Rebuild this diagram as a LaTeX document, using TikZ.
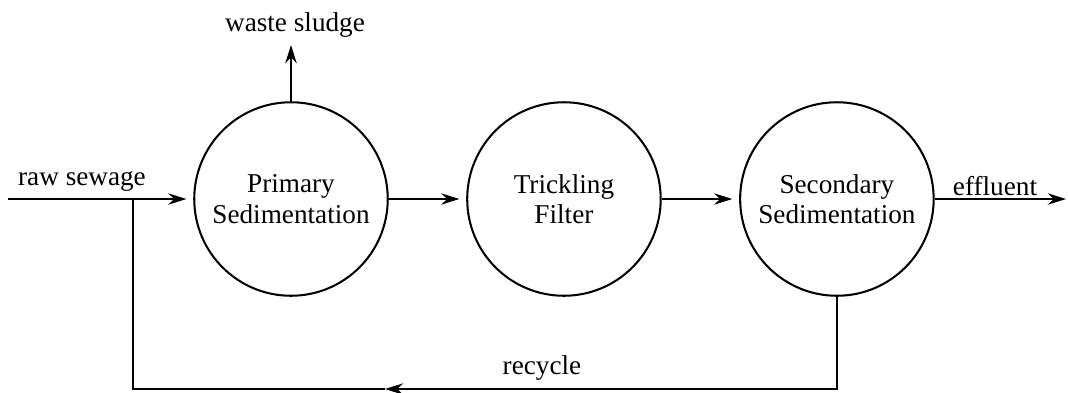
\documentclass[tikz,border=0pt]{standalone}
\usepackage{fontspec}
\setmainfont{Liberation Serif}
\usepackage{tikz}
\usetikzlibrary{positioning,arrows.meta}

\tikzset{
  unit/.style={shape=circle,draw,line width=0.9pt,minimum size=3cm,inner sep=1pt,align=center,font=\fontsize{12}{13.5}\selectfont},
  lbl/.style={font=\fontsize{12}{13.5}\selectfont},
  flow/.style={line width=0.9pt,-{Stealth[length=8pt,width=5pt]}},
  pipe/.style={line width=0.9pt}
}

\begin{document}
\begin{tikzpicture}[x=0.0155cm,y=-0.0155cm]
		\useasboundingbox (0,0) rectangle (1068,392);
		\node(1) at (291,199) [unit] {Primary\\Sedimentation};
		\node(2) [right=1.2cm of 1,unit] {Trickling\\Filter};
		\node(3) [right=1.2cm of 2,unit] {Secondary\\Sedimentation};
		% feed, recycle junction and outlets
		\coordinate (in) at (8,199);
		\coordinate (j) at (133,199);
		\coordinate (bl) at (133,389);
		\coordinate (rec) at (385,389);
		\coordinate (ws) at (1.north |- 0,45);
		\coordinate (out) at (1066,199);
		\draw [flow,shorten >=3pt] (in) -- (1);
		\draw [flow,shorten >=3pt] (1) -- (2);
		\draw [flow,shorten >=3pt] (2) -- (3);
		\draw [flow] (3) -- (out);
		\draw [flow] (1.north) -- (ws);
		\draw [flow] (3.south) |- (rec);
		\draw [pipe] (rec) -- (bl) -- (j);
		\node(wsl) at (295,25) [lbl] {waste sludge};
		\node(rsl) at (82,181) [lbl] {raw sewage};
		\node(efl) at (995,186) [lbl] {effluent};
		\node(rcl) at (542,368) [lbl] {recycle};
	\end{tikzpicture}
\end{document}
